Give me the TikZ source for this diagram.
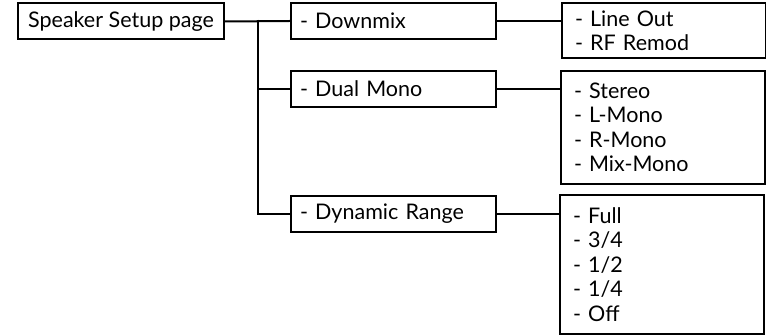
\documentclass[tikz,border=0pt]{standalone}
\usepackage{fontspec}
\setmainfont{Lato}
\usetikzlibrary{positioning, calc}

\tikzset{
  menubox/.style={draw, line width=2pt, anchor=north west, inner ysep=0pt,
    font=\fontsize{21.5}{24.5}\selectfont},
  pagebox/.style={menubox, minimum width=206pt, minimum height=36pt, inner xsep=0pt},
  itembox/.style={menubox, text width=187pt, inner xsep=9pt, align=left, minimum height=36pt},
  optbox/.style={menubox, text width=178pt, inner xsep=13pt, align=left}
}

\begin{document}
\begin{tikzpicture}[x=1pt, y=-1pt, line width=2pt]
      \useasboundingbox (0,0) rectangle (766,336);

      \node[pagebox] (spk) at (17,2.5) {Speaker Setup page};

      \node[itembox] (dmx) at (290,2) {- Downmix};
      \node[itembox] (dual) at (290,70) {- Dual Mono};
      \node[itembox] (dyn) at (290,195) {- Dynamic Range};

      \node[optbox, minimum height=55pt] (lout) at (561,2) {- Line Out\\- RF Remod};
      \node[optbox, minimum height=113pt] (stereo) at (560,70) {- Stereo\\- L-Mono\\- R-Mono\\- Mix-Mono};
      \node[optbox, minimum height=139pt] (full) at (559,194) {- Full\\- 3/4\\- 1/2\\- 1/4\\- Off};

      \coordinate (trunk) at (258,20);
      \draw (spk.east) -- (dmx.west);
      \draw (trunk) |- (dual.west);
      \draw (trunk) |- (dyn.west);

      \draw (dmx.east) -- (dmx.east -| lout.west);
      \draw (dual.east) -- (dual.east -| stereo.west);
      \draw (dyn.east) -- (dyn.east -| full.west);

    \end{tikzpicture}
\end{document}
